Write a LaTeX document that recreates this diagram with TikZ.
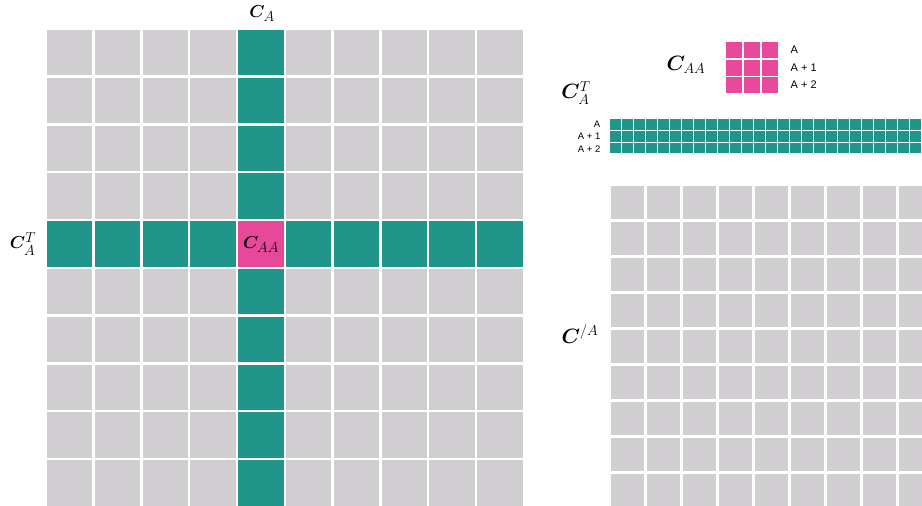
\documentclass[tikz,border=0pt]{standalone}
\usepackage{amsmath,bm}
\usepackage{fontspec}
\setsansfont{Liberation Sans}
\definecolor{cgray}{RGB}{208,206,208}
\definecolor{cteal}{RGB}{31,150,137}
\definecolor{cpink}{RGB}{232,72,154}
\tikzset{
  biglabel/.style={inner sep=0pt, font=\fontsize{19}{22}\selectfont},
  rlabel/.style={inner sep=0pt, font=\fontsize{21}{24}\selectfont},
  idxlabel/.style={inner sep=0pt, font=\sffamily\fontsize{11}{13}\selectfont, anchor=west},
  smidx/.style={inner sep=0pt, font=\sffamily\fontsize{9.5}{11}\selectfont, anchor=east},
}
\begin{document}
\begin{tikzpicture}[x=1pt,y=-1pt]
\useasboundingbox (0,0) rectangle (922,506);
\clip (0,0) rectangle (922,506);
% left big grid
\foreach \i in {0,...,9}{
  \foreach \j in {0,...,9}{
    \pgfmathsetmacro{\xx}{47+47.8*\i}
    \pgfmathsetmacro{\yy}{30+47.8*\j}
    \ifnum\i=4
      \ifnum\j=4 \def\cc{cpink}\else\def\cc{cteal}\fi
    \else
      \ifnum\j=4 \def\cc{cteal}\else\def\cc{cgray}\fi
    \fi
    \fill[\cc] (\xx,\yy) rectangle ++(45.4,45.4);
  }
}
\node[biglabel] (ca) at (262,14) {$\bm{C}_A$};
\node[biglabel] (cat) at (23,244) {$\bm{C}_A^T$};
\node[biglabel] (caa) at (261,245) {$\bm{C}_{AA}$};
% right gray grid
\foreach \i in {0,...,8}{
  \foreach \j in {0,...,8}{
    \fill[cgray] (610.7+36*\i,185.5+36*\j) rectangle ++(33.5,33.5);
  }
}
% teal strip
\foreach \i in {0,...,25}{
  \foreach \j in {0,...,2}{
    \fill[cteal] (610+12*\i,119.3+11.8*\j) rectangle ++(10.6,10.4);
  }
}
% pink block
\foreach \i in {0,...,2}{
  \foreach \j in {0,...,2}{
    \fill[cpink] (725.7+18*\i,42+17.7*\j) rectangle ++(16,15.8);
  }
}
\node[idxlabel] (p1) at (790.5,50) {A};
\node[idxlabel] (p2) at (790.5,67.5) {A + 1};
\node[idxlabel] (p3) at (790.5,85) {A + 2};
\node[smidx] (t1) at (600.5,124.5) {A};
\node[smidx] (t2) at (600.5,136.7) {A + 1};
\node[smidx] (t3) at (600.5,149) {A + 2};
\node[rlabel] (caa2) at (686,65) {$\bm{C}_{AA}$};
\node[rlabel] (cat2) at (576,93) {$\bm{C}_A^T$};
\node[rlabel] (cna) at (580,334) {$\bm{C}^{/A}$};
\end{tikzpicture}
\end{document}
